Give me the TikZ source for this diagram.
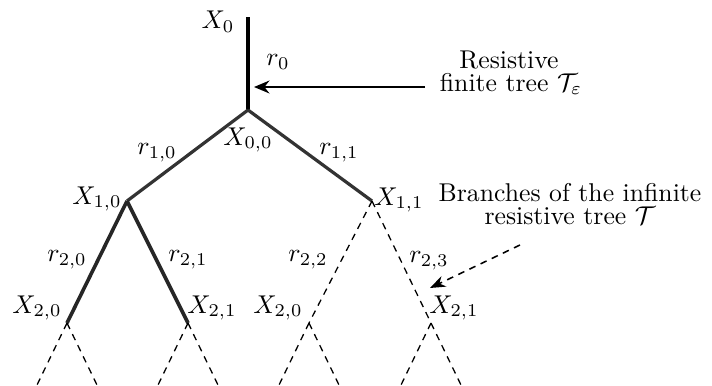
\documentclass[tikz,border=0pt]{standalone}
\usetikzlibrary{arrows.meta,calc}
\begin{document}
\begin{tikzpicture}[x=0.389pt,y=-0.389pt,
  trunk/.style={line width=1.8pt,black},
  lvlone/.style={line width=1.25pt,black!80},
  lvltwo/.style={line width=1.4pt,black!85},
  dashbranch/.style={line width=0.5pt,dash pattern=on 2.6pt off 2.2pt},
  lbl/.style={inner sep=0pt},
  noteline/.style={inner sep=0pt,anchor=base}]
\useasboundingbox (0,0) rectangle (712,385);
% vertices
\coordinate (top) at (248,17);
\coordinate (v00) at (248,110);
\coordinate (v10) at (127,201);
\coordinate (v11) at (372,201);
\coordinate (v20) at (67,323);
\coordinate (v21) at (188,323);
\coordinate (v22) at (309,323);
\coordinate (v23) at (431,323);
\foreach \v in {20,21,22,23}{
  \coordinate (e\v l) at ($(v\v)+(-30,62)$);
  \coordinate (e\v r) at ($(v\v)+(30,62)$);
}
% edges
\draw[trunk] (top) -- (v00);
\draw[lvlone] (v00) -- (v10);
\draw[lvlone] (v00) -- (v11);
\draw[lvltwo] (v10) -- (v20);
\draw[lvltwo] (v10) -- (v21);
\draw[dashbranch] (v11) -- (v22);
\draw[dashbranch] (v11) -- (v23);
\foreach \v in {20,21,22,23}{
  \draw[dashbranch] (v\v) -- (e\v l);
  \draw[dashbranch] (v\v) -- (e\v r);
}
% vertex labels
\node[lbl] (lX0) at (218,22) {$X_0$};
\node[lbl] (lX00) at (248,140) {$X_{0,0}$};
\node[lbl] (lX10) at (97,199) {$X_{1,0}$};
\node[lbl] (lX11) at (399,200) {$X_{1,1}$};
\node[lbl] (lX20) at (37,308) {$X_{2,0}$};
\node[lbl] (lX21) at (212,308) {$X_{2,1}$};
\node[lbl] (lX22) at (278,308) {$X_{2,0}$};
\node[lbl] (lX23) at (454,308) {$X_{2,1}$};
% resistance labels
\node[lbl] (lr0) at (278,62) {$r_0$};
\node[lbl] (lr10) at (157,153) {$r_{1,0}$};
\node[lbl] (lr11) at (339,153) {$r_{1,1}$};
\node[lbl] (lr20) at (67,260) {$r_{2,0}$};
\node[lbl] (lr21) at (188,260) {$r_{2,1}$};
\node[lbl] (lr22) at (308,260) {$r_{2,2}$};
\node[lbl] (lr23) at (429,261) {$r_{2,3}$};
% notes
\node[noteline] (finiteA) at (509,68) {Resistive};
\node[noteline] (finiteB) at (511,91) {finite tree $\mathcal{T}_\varepsilon$};
\node[noteline] (infiniteA) at (570,201) {Branches of the infinite};
\node[noteline] (infiniteB) at (570,224) {resistive tree $\mathcal{T}$};
\coordinate (a1s) at (425,87);
\coordinate (a1e) at (254,87);
\coordinate (a2s) at (520,245);
\coordinate (a2e) at (430,288);
\draw[line width=0.8pt,-{Stealth[length=6pt,width=5pt]}] (a1s) -- (a1e);
\draw[line width=0.6pt,dash pattern=on 2.6pt off 2.2pt,-{Stealth[length=6pt,width=4.5pt]}] (a2s) -- (a2e);
\end{tikzpicture}
\end{document}
